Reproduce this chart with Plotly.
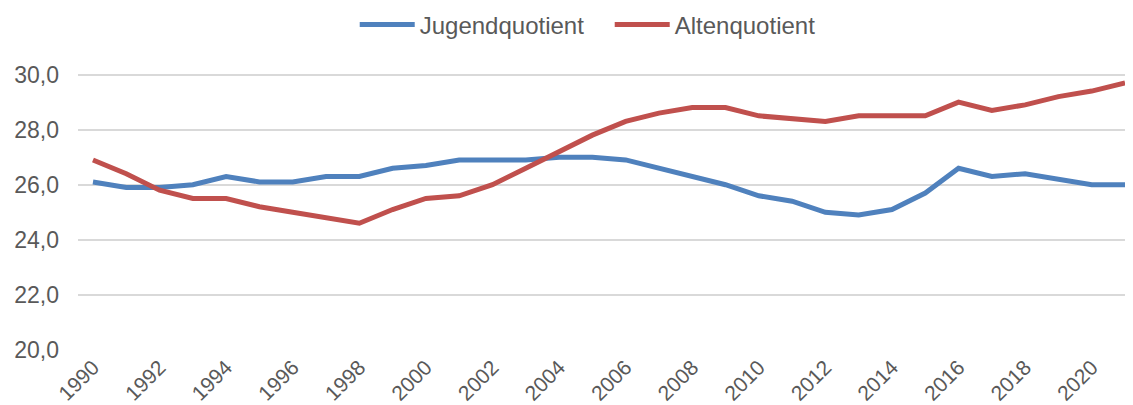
import plotly.graph_objects as go

years = list(range(1990, 2022))
jugend = [26.1, 25.9, 25.9, 26.0, 26.3, 26.1, 26.1, 26.3, 26.3, 26.6, 26.7, 26.9, 26.9, 26.9, 27.0, 27.0,
          26.9, 26.6, 26.3, 26.0, 25.6, 25.4, 25.0, 24.9, 25.1, 25.7, 26.6, 26.3, 26.4, 26.2, 26.0, 26.0]
alten = [26.9, 26.4, 25.8, 25.5, 25.5, 25.2, 25.0, 24.8, 24.6, 25.1, 25.5, 25.6, 26.0, 26.6, 27.2, 27.8,
         28.3, 28.6, 28.8, 28.8, 28.5, 28.4, 28.3, 28.5, 28.5, 28.5, 29.0, 28.7, 28.9, 29.2, 29.4, 29.7]
tick_years = list(range(1990, 2022, 2))

fig = go.Figure()
fig.add_trace(go.Scatter(x=years, y=jugend, mode="lines", name="Jugendquotient",
                         line=dict(color="#4F81BD", width=5)))
fig.add_trace(go.Scatter(x=years, y=alten, mode="lines", name="Altenquotient",
                         line=dict(color="#C0504D", width=5)))

fig.update_layout(
    width=1125, height=397,
    margin=dict(l=70, r=0, t=39, b=55, autoexpand=False),
    paper_bgcolor="white", plot_bgcolor="white",
    separators=",.",
    font=dict(family="Liberation Sans, Arial", color="#595959"),
    legend=dict(orientation="h", x=0.504, xanchor="center", y=1.073, yanchor="middle",
                font=dict(size=24, color="#595959"), itemwidth=55,
                entrywidth=185, entrywidthmode="pixels",
                bgcolor="rgba(0,0,0,0)"),
    showlegend=True,
)
fig.update_xaxes(range=[1989.55, 2021.24], tickmode="array", tickvals=tick_years,
                 ticktext=[str(y) for y in tick_years], tickangle=-45,
                 tickfont=dict(size=21, color="#595959"), showgrid=False, zeroline=False,
                 showline=False, ticks="", automargin=False)
fig.update_yaxes(range=[20, 31], tickvals=[20, 22, 24, 26, 28, 30], tickformat=".1f",
                 tickfont=dict(size=23, color="#595959"), showgrid=True,
                 gridcolor="#D9D9D9", gridwidth=1.5, zeroline=False, showline=False,
                 ticks="", ticklabelstandoff=18, automargin=False)

fig.write_html("out.html")
